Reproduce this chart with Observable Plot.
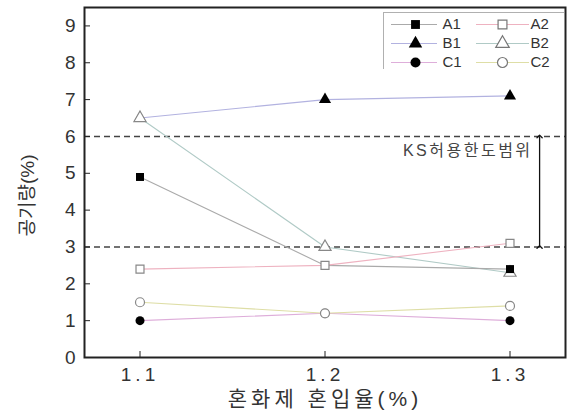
<!DOCTYPE html>
<html>
<head>
<meta charset="utf-8">
<script src="https://cdn.jsdelivr.net/npm/d3@7"></script>
<script src="https://cdn.jsdelivr.net/npm/@observablehq/plot@0.6"></script>
<style>
  body { margin: 0; background: #fff; }
  #chart { position: relative; width: 571px; height: 419px; }
  #legend { position: absolute; left: 383px; top: 12px; }
  #chart svg [aria-label="x-axis tick label"] text { letter-spacing: 4px; }
  .x-title text { letter-spacing: 4px; }
  .range-note text { letter-spacing: 2.5px; }
</style>
</head>
<body>
<div id="chart"></div>
<script>
// Admixture dosage (%) on the x axis
const mixRates = [1.1, 1.2, 1.3];

// Air content (%) per mix
const A1 = [4.9, 2.5, 2.4];
const A2 = [2.4, 2.5, 3.1];
const B1 = [6.5, 7.0, 7.1];
const B2 = [6.5, 3.0, 2.3];
const C1 = [1.0, 1.2, 1.0];
const C2 = [1.5, 1.2, 1.4];

const seriesNames = ["A1", "A2", "B1", "B2", "C1", "C2"];
const seriesValues = { A1, A2, B1, B2, C1, C2 };
const seriesSymbols = { A1: "square", A2: "square", B1: "triangle", B2: "triangle", C1: "circle", C2: "circle" };
const seriesFilled = { A1: true, A2: false, B1: true, B2: false, C1: true, C2: false };
const seriesColors = { A1: "#aaaaaa", A2: "#eeb2c0", B1: "#b2b2e0", B2: "#b0cac6", C1: "#deaeda", C2: "#dedea6" };
// stacking order of the markers where they overlap
const drawOrder = ["B1", "B2", "A1", "A2", "C1", "C2"];

const yTicks = [0, 1, 2, 3, 4, 5, 6, 7, 8, 9];
const xTitle = "혼화제 혼입율(%)";
const yTitle = "공기량(%)";

// KS allowable range of air content
const ksRange = { rate: 1.316, low: 3, high: 6, text: "KS허용한도범위" };

const fontFamily = "'Liberation Sans', Arial, 'Noto Sans CJK KR', sans-serif";

const rows = seriesNames.flatMap(s =>
  seriesValues[s].map((v, i) => ({ series: s, rate: mixRates[i], value: v }))
);

const lineMarks = drawOrder.map(s =>
  Plot.line(rows.filter(d => d.series === s), {
    x: "rate", y: "value", stroke: seriesColors[s], strokeWidth: 1.1
  })
);

const dotMarks = drawOrder.map(s =>
  Plot.dot(rows.filter(d => d.series === s), {
    x: "rate", y: "value",
    symbol: seriesSymbols[s],
    r: 4.5,
    fill: seriesFilled[s] ? "#000" : "#fff",
    stroke: seriesFilled[s] ? "none" : "#888",
    strokeWidth: 1.2
  })
);

const chart = Plot.plot({
  width: 571,
  height: 419,
  marginLeft: 84,
  marginRight: 6,
  marginTop: 7,
  marginBottom: 62,
  style: { fontFamily, color: "#333", background: "#fff", overflow: "visible" },
  x: { domain: [1.07, 1.33] },
  y: { domain: [0, 9.5] },
  marks: [
    Plot.ruleY([ksRange.low, ksRange.high], { stroke: "#444", strokeWidth: 1.5, strokeDasharray: "6,4" }),
    ...lineMarks,
    ...dotMarks,
    Plot.link([ksRange], {
      x1: "rate", x2: "rate", y1: "low", y2: "high",
      stroke: "#111", strokeWidth: 1.3,
      markerStart: "arrow", markerEnd: "arrow"
    }),
    Plot.text([ksRange], {
      x: "rate", y: "high", text: "text",
      textAnchor: "end", dx: -7, dy: 14,
      fontSize: 16, fill: "#444", className: "range-note"
    }),
    Plot.axisY(yTicks, {
      tickSize: -6, tickPadding: 15, fontSize: 19, label: null, stroke: "#222"
    }),
    Plot.axisX(mixRates, {
      tickSize: -6, tickPadding: 16, fontSize: 19, label: null,
      tickFormat: d3.format(".1f"), stroke: "#222"
    }),
    Plot.text([yTitle], {
      frameAnchor: "left", textAnchor: "middle", rotate: -90,
      dx: -57, dy: 13, fontSize: 19, fill: "#333"
    }),
    Plot.text([xTitle], {
      frameAnchor: "bottom", dy: 48, fontSize: 21, fill: "#333", className: "x-title"
    }),
    Plot.frame({ stroke: "#222", strokeWidth: 2 })
  ]
});

// Legend: three rows of two entries
const legendCols = [
  { line: [8, 54], marker: 32, label: 59 },
  { line: [93, 146], marker: 119, label: 147 }
];
const legendRows = [12, 31, 50];
const legendEntries = seriesNames.map((s, i) => {
  const c = legendCols[i % 2];
  return {
    name: s,
    y: legendRows[Math.floor(i / 2)],
    x1: c.line[0], x2: c.line[1], mx: c.marker, tx: c.label,
    color: seriesColors[s],
    symbol: seriesSymbols[s],
    fill: seriesFilled[s] ? "#000" : "#fff",
    stroke: seriesFilled[s] ? "none" : "#777"
  };
});

const legend = Plot.plot({
  width: 181,
  height: 57,
  margin: 0,
  style: { fontFamily, color: "#333", background: "#fff" },
  x: { domain: [0, 181], range: [0, 181], axis: null },
  y: { domain: [0, 57], range: [0, 57], axis: null },
  color: { type: "identity" },
  symbol: { type: "identity" },
  marks: [
    Plot.frame({ stroke: "#b0b0b0", strokeWidth: 1 }),
    Plot.ruleY(legendEntries, { y: "y", x1: "x1", x2: "x2", stroke: "color", strokeWidth: 1.1 }),
    Plot.dot(legendEntries, { x: "mx", y: "y", symbol: "symbol", r: 5, fill: "fill", stroke: "stroke", strokeWidth: 1.2 }),
    Plot.text(legendEntries, { x: "tx", y: "y", text: "name", textAnchor: "start", fontSize: 15, fill: "#333" })
  ]
});
legend.id = "legend";

const host = document.getElementById("chart");
host.appendChild(chart);
host.appendChild(legend);
</script>
</body>
</html>
